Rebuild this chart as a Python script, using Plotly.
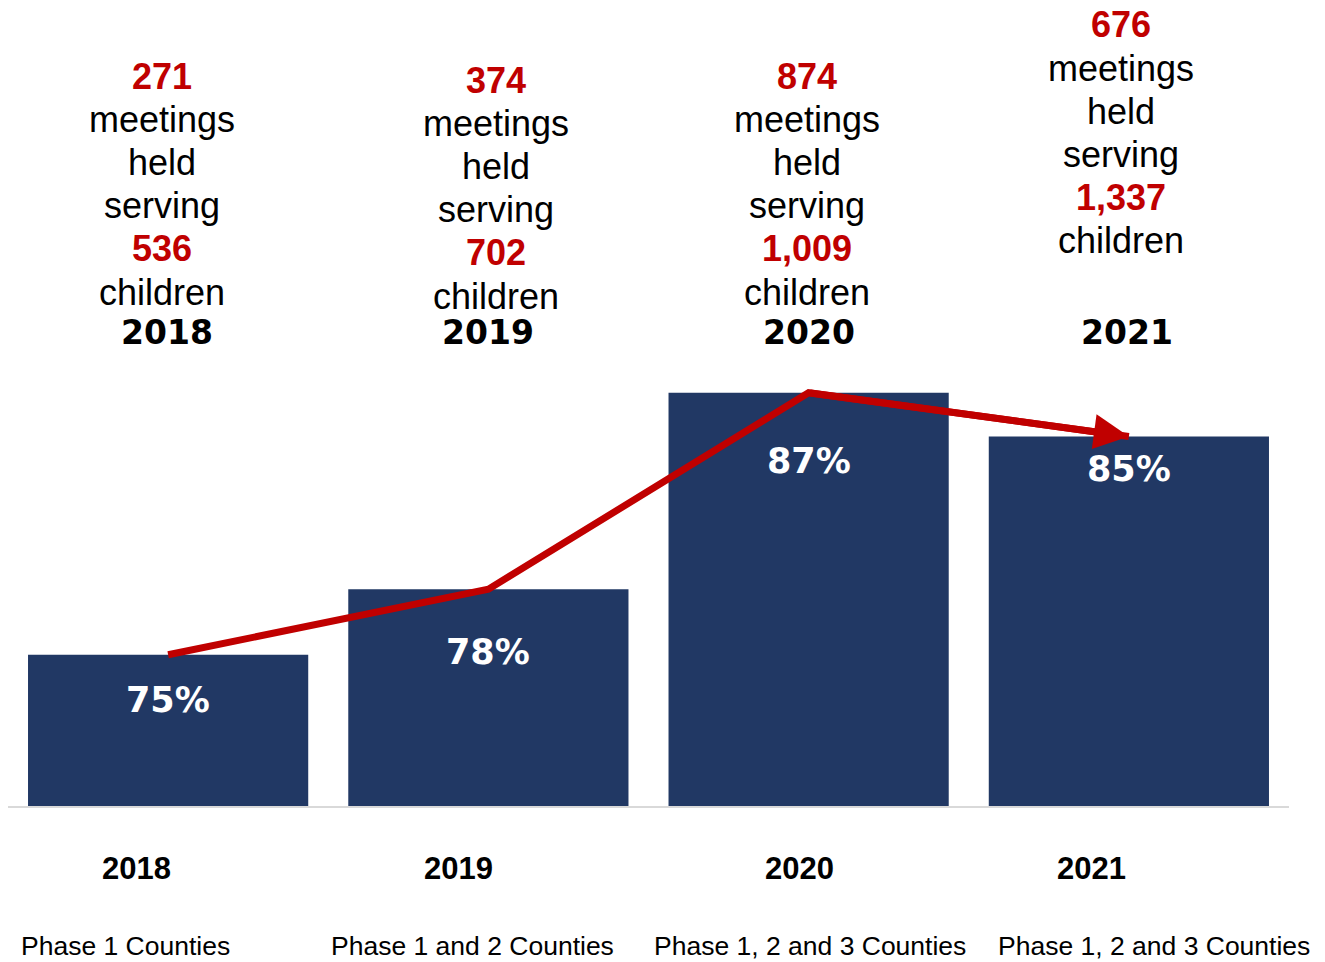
import plotly.graph_objects as go

years = ["2018", "2019", "2020", "2021"]
pct = [75, 78, 87, 85]
meetings = ["271", "374", "874", "676"]
children = ["536", "702", "1,009", "1,337"]
phases = ["Phase 1 Counties", "Phase 1 and 2 Counties",
          "Phase 1, 2 and 3 Counties", "Phase 1, 2 and 3 Counties"]

NAVY = "#213864"
RED = "#C00000"
OFF = 8            # page body margin
BASE = 806         # page y of the baseline
PLOT_H = BASE - OFF
PX_PER_UNIT = 21.83
YMIN = 68.07

xs = list(range(len(years)))

def py(p):
    return (BASE - p) / PLOT_H

fig = go.Figure()
fig.add_trace(go.Bar(x=xs, y=pct, marker=dict(color=NAVY, line=dict(width=0)),
                     hoverinfo="skip", showlegend=False))
fig.add_trace(go.Scatter(
    x=xs, y=pct, mode="lines",
    line=dict(color=RED, width=7),
    hoverinfo="skip", showlegend=False))

ann = []
# arrow head on the last segment of the trend line
ann.append(dict(x=xs[3], y=pct[3], ax=xs[2], ay=pct[2], xref="x", yref="y",
                axref="x", ayref="y", text="", showarrow=True, arrowhead=2,
                arrowsize=1.0, arrowwidth=7, arrowcolor=RED, standoff=0))

# percent labels inside bars
pct_shift = [-45, -63, -68, -33]
for i, v in enumerate(pct):
    ann.append(dict(x=xs[i], y=v, xref="x", yref="y", text=f"<b>{v}%</b>",
                    showarrow=False, yanchor="middle", yshift=pct_shift[i],
                    font=dict(family="DejaVu Sans", size=35, color="white")))

# top text blocks
block_top = [76, 80, 76, 25]
block_dx = [-6, 8, -2, -8]
year_dx = [-1, 0, 0, -2]
spacing = 43.2
for i, yr in enumerate(years):
    lines = [(meetings[i], True), ("meetings", False), ("held", False),
             ("serving", False), (children[i], True), ("children", False)]
    for j, (t, red) in enumerate(lines):
        p = block_top[i] + j * spacing
        ann.append(dict(
            x=xs[i], xref="x", y=py(p), yref="paper", xshift=block_dx[i],
            text=f"<b>{t}</b>" if red else t, showarrow=False, yanchor="middle",
            font=dict(family="Liberation Sans, Arial", size=36,
                      color=RED if red else "black")))
    ann.append(dict(x=xs[i], xref="x", y=py(333), yref="paper", xshift=year_dx[i],
                    text=f"<b>{yr}</b>", showarrow=False, yanchor="middle",
                    font=dict(family="DejaVu Sans", size=33, color="black")))

# bottom labels
yr_dx = [-32, -30, -9, -37]
ph_dx = [-43, -16, 1, 25]
for i, yr in enumerate(years):
    ann.append(dict(x=xs[i], xref="x", y=py(868), yref="paper", xshift=yr_dx[i],
                    text=f"<b>{yr}</b>", showarrow=False, yanchor="middle",
                    font=dict(family="Liberation Sans, Arial", size=31, color="black")))
    ann.append(dict(x=xs[i], xref="x", y=py(946), yref="paper", xshift=ph_dx[i],
                    text=phases[i], showarrow=False, yanchor="middle",
                    font=dict(family="Liberation Sans, Arial", size=26.5, color="black")))

fig.update_layout(
    width=1317, height=954,
    margin=dict(l=0, r=36, t=0, b=954 - PLOT_H),
    paper_bgcolor="white", plot_bgcolor="white",
    bargap=0.125,
    xaxis=dict(range=[-0.5, 3.5], showticklabels=False,
               showgrid=False, zeroline=False, showline=True,
               linecolor="#d9d9d9", linewidth=2, ticks=""),
    yaxis=dict(range=[YMIN, YMIN + PLOT_H / PX_PER_UNIT], visible=False,
               showgrid=False, zeroline=False),
    annotations=ann,
    showlegend=False,
)
fig.write_html("out.html")
